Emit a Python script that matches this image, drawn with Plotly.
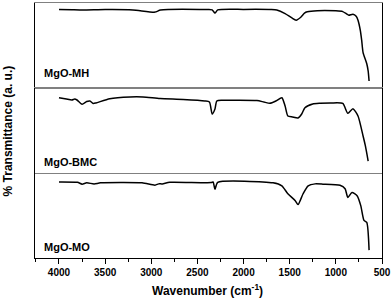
import plotly.graph_objects as go
from plotly.subplots import make_subplots

# ---- data (wavenumber in cm^-1, transmittance in arbitrary %) ----
wn_mh = [4000, 3860, 3740, 3500, 3200, 2960, 2900, 2400, 2340, 2310, 2280, 2000, 1700, 1640,
         1550, 1480, 1430, 1380, 1340, 1310, 1200, 1000, 925, 880, 860, 815, 780, 760, 735,
         720, 705, 665, 650, 640]
t_mh = [92.5, 92.0, 91.7, 92.3, 91.9, 89.3, 91.7, 92.3, 92.0, 88.1, 91.9, 92.5, 92.3, 91.7,
        87.5, 82.7, 79.8, 83.3, 88.1, 89.6, 91.0, 90.8, 89.9, 86.9, 85.7, 86.9, 84.5, 79.8, 67.9,
        56.0, 41.7, 28.6, 20.0, 8.3]

wn_bmc = [4000, 3920, 3860, 3830, 3805, 3750, 3700, 3665, 3630, 3600, 3450, 3230, 3090, 2905,
          2655, 2420, 2370, 2340, 2310, 2290, 2230, 1855, 1780, 1715, 1650, 1585, 1550, 1520,
          1470, 1410, 1370, 1335, 1250, 1170, 1050, 925, 870, 815, 760, 705, 680, 650]
t_bmc = [88.6, 87.0, 85.9, 87.0, 85.9, 80.8, 84.1, 84.7, 81.8, 82.4, 87.4, 89.4, 89.4, 87.6,
         86.5, 84.7, 83.5, 69.4, 75.3, 84.7, 85.5, 85.3, 83.5, 82.0, 84.7, 88.6, 78.8, 67.1,
         65.9, 64.7, 69.4, 76.8, 81.2, 82.0, 82.4, 81.8, 70.2, 75.6, 67.1, 43.5, 31.8, 14.1]

wn_mo = [4000, 3800, 3750, 3700, 3620, 3550, 3100, 2960, 2920, 2880, 2800, 2350, 2330, 2310,
         2280, 1680, 1585, 1520, 1440, 1410, 1355, 1300, 1225, 1140, 955, 900, 870, 825, 770,
         730, 695, 665, 640]
t_mo = [89.5, 89.0, 86.9, 88.4, 87.2, 88.4, 88.4, 85.7, 87.2, 87.2, 89.0, 88.7, 89.5, 81.0,
        89.0, 88.4, 84.9, 75.6, 67.4, 62.8, 75.6, 84.9, 87.2, 86.9, 85.5, 81.4, 71.3, 77.1, 73.3,
        61.6, 44.2, 41.9, 9.3]

labels = ["MgO-MH", "MgO-BMC", "MgO-MO"]
x_ticks = [4000, 3500, 3000, 2500, 2000, 1500, 1000, 500]

series = [(wn_mh, t_mh), (wn_bmc, t_bmc), (wn_mo, t_mo)]

fig = make_subplots(rows=3, cols=1, shared_xaxes=True, vertical_spacing=0)

for i, (wx, ty) in enumerate(series, start=1):
    fig.add_trace(go.Scatter(x=wx, y=ty, mode="lines",
                             line=dict(color="black", width=1.5, shape="spline", smoothing=0.6),
                             showlegend=False, hoverinfo="skip", cliponaxis=True),
                  row=i, col=1)

font_fam = "Liberation Sans, Arial, sans-serif"

for i in range(1, 4):
    fig.update_yaxes(range=[0, 100], showticklabels=False, ticks="", showgrid=False,
                     zeroline=False, showline=True, linecolor="black", linewidth=1,
                     mirror=True, automargin=False, row=i, col=1)
    if i < 3:
        fig.update_xaxes(range=[4260, 500], showticklabels=False, ticks="", showgrid=False,
                         zeroline=False, showline=True, linecolor="#808080", linewidth=1,
                         mirror=True, automargin=False, row=i, col=1)
    else:
        fig.update_xaxes(range=[4260, 500], showgrid=False, zeroline=False, showline=True,
                         linecolor="black", linewidth=1, mirror=False, automargin=False,
                         tickmode="array", tickvals=x_ticks, ticktext=[str(v) for v in x_ticks],
                         ticks="outside", ticklen=5, tickwidth=1, tickcolor="black",
                         minor=dict(ticks="outside", dtick=250, tick0=500, ticklen=3,
                                    tickcolor="black", showgrid=False),
                         tickfont=dict(family=font_fam, size=10, color="black", weight="bold"),
                         row=i, col=1)

label_y = [0.18, 0.135, 0.135]
for i, (lab, ly) in enumerate(zip(labels, label_y), start=1):
    yref = "y domain" if i == 1 else f"y{i} domain"
    fig.add_annotation(text=f"<b>{lab}</b>", xref="paper", x=0.02, xanchor="left",
                       yref=yref, y=ly, yanchor="middle", showarrow=False,
                       font=dict(family=font_fam, size=11, color="black"))

fig.add_annotation(text="<b>Wavenumber (cm<sup>-1</sup>)</b>", xref="paper", x=0.498,
                   yref="paper", y=-0.125, xanchor="center", yanchor="middle",
                   showarrow=False, font=dict(family=font_fam, size=12, color="black"))
fig.add_annotation(text="<b>% Transmittance (a. u.)</b>", xref="paper", x=-0.078,
                   yref="paper", y=0.5, xanchor="center", yanchor="middle", textangle=-90,
                   showarrow=False, font=dict(family=font_fam, size=12, color="black"))

fig.update_layout(width=392, height=298, margin=dict(l=35, r=10, t=3, b=40,
                                                     autoexpand=False),
                  paper_bgcolor="white", plot_bgcolor="white")

fig.write_html("out.html", config={"displayModeBar": False, "staticPlot": True},
               post_script="document.body.style.margin='0px';document.body.style.overflow='hidden';")
